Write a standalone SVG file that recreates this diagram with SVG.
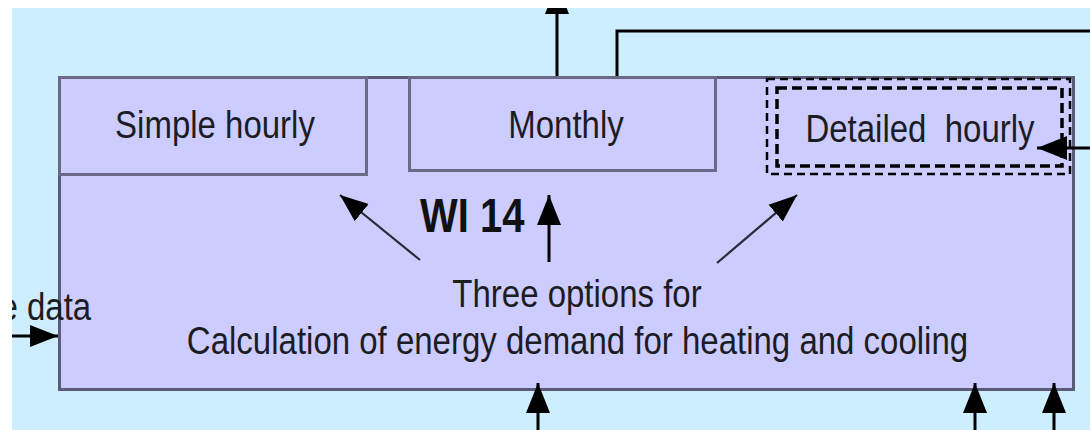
<svg xmlns="http://www.w3.org/2000/svg" width="1090" height="430" viewBox="0 0 1090 430">
<style>
.t{font-family:"Liberation Sans",Arial,sans-serif;font-size:33px;fill:#1c1c24}
.b{font-family:"Liberation Sans",Arial,sans-serif;font-size:40px;font-weight:bold;fill:#111}
.box{fill:#ccccff;stroke:#5c5c78;stroke-width:3}
.sub{fill:#ccccff;stroke:#6a6a88;stroke-width:3}
.ln{fill:none;stroke:#000;stroke-width:3}
.dg{fill:none;stroke:#2a2a3a;stroke-width:2.2}
.dash{fill:none;stroke:#000}
</style>
<defs>
<clipPath id="clip"><rect x="12" y="8" width="1078" height="422"/></clipPath>
<marker id="ah" markerUnits="userSpaceOnUse" markerWidth="32" markerHeight="26" refX="30" refY="13" orient="auto">
<path d="M0,1 L30,13 L0,25 z" fill="#000"/>
</marker>
<marker id="ahs" markerUnits="userSpaceOnUse" markerWidth="30" markerHeight="24" refX="28" refY="12" orient="auto">
<path d="M0,1 L28,12 L0,23 z" fill="#000"/>
</marker>
</defs>
<rect x="0" y="0" width="1090" height="430" fill="#ffffff"/>
<g clip-path="url(#clip)">
<rect id="background" x="12" y="8" width="1078" height="422" fill="#cceeff"/>
<g id="wi14">
<rect class="box" x="59.5" y="77.5" width="1014" height="312"/>
<text class="b" transform="translate(420,232) scale(1,1.18)">WI 14</text>
<text class="t" text-anchor="middle" transform="translate(577,307) scale(1,1.2)">Three options for</text>
<text class="t" text-anchor="middle" transform="translate(577.5,354) scale(1,1.2)">Calculation of energy demand for heating and cooling</text>
</g>
<g id="simple-hourly">
<rect class="sub" x="59.5" y="77.5" width="307" height="97"/>
<text class="t" text-anchor="middle" transform="translate(215,138) scale(1,1.2)">Simple hourly</text>
</g>
<g id="monthly">
<rect class="sub" x="409.5" y="77.5" width="306" height="93"/>
<text class="t" text-anchor="middle" transform="translate(566,138) scale(1,1.2)">Monthly</text>
</g>
<g id="detailed-hourly">
<rect class="dash" x="767" y="79" width="303" height="95" stroke-width="2.5" stroke-dasharray="8,5"/>
<rect class="dash" x="777" y="88" width="285" height="78" stroke-width="3.5" stroke-dasharray="10,5"/>
<text class="t" text-anchor="middle" xml:space="preserve" transform="translate(920,142) scale(1,1.2)">Detailed  hourly</text>
</g>
<g id="climate-data">
<text class="t" transform="translate(-0.5,320) scale(1,1.2)">e data</text>
</g>
<g id="connectors">
<path class="ln" d="M557,76 V-16" marker-end="url(#ah)"/>
<path class="ln" d="M1090,31 H617 V76"/>
<path class="ln" d="M1090,148 H1037" marker-end="url(#ah)"/>
<path class="ln" d="M12,336 H58" marker-end="url(#ahs)"/>
<path class="ln" d="M549,262 V195" marker-end="url(#ah)"/>
<path class="dg" d="M420,260 L340,195" marker-end="url(#ahs)"/>
<path class="dg" d="M717,263 L797,195" marker-end="url(#ahs)"/>
<path class="ln" d="M538,430 V383" marker-end="url(#ah)"/>
<path class="ln" d="M975,430 V383" marker-end="url(#ah)"/>
<path class="ln" d="M1054,430 V383" marker-end="url(#ah)"/>
</g>
</g>
</svg>
